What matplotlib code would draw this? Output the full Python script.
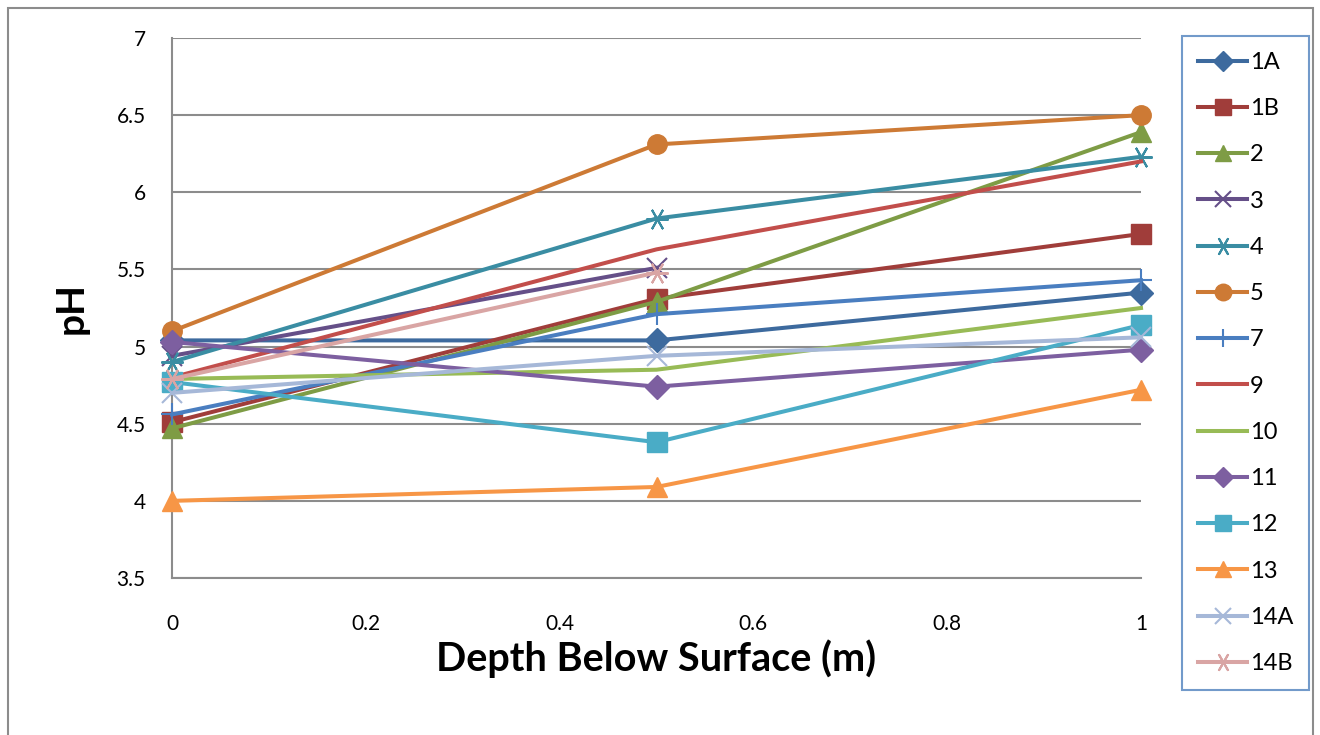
import numpy as np
import matplotlib
matplotlib.use("Agg")
import matplotlib.pyplot as plt
from matplotlib.patches import Rectangle

plt.rcParams['font.family'] = ['Lato', 'DejaVu Sans']

# depth (m)
depth = [0, 0.5, 1]

names = ["1A", "1B", "2", "3", "4", "5", "7", "9", "10", "11", "12", "13", "14A", "14B"]
ph_1A = [5.04, 5.04, 5.35]
ph_1B = [4.51, 5.31, 5.73]
ph_2 = [4.47, 5.29, 6.39]
ph_3 = [4.94, 5.51, None]
ph_4 = [4.90, 5.83, 6.23]
ph_5 = [5.10, 6.31, 6.50]
ph_7 = [4.56, 5.21, 5.43]
ph_9 = [4.80, 5.63, 6.20]
ph_10 = [4.79, 4.85, 5.25]
ph_11 = [5.03, 4.74, 4.98]
ph_12 = [4.77, 4.38, 5.14]
ph_13 = [4.00, 4.09, 4.72]
ph_14A = [4.70, 4.94, 5.06]
ph_14B = [4.79, 5.48, None]

series = [ph_1A, ph_1B, ph_2, ph_3, ph_4, ph_5, ph_7, ph_9, ph_10,
          ph_11, ph_12, ph_13, ph_14A, ph_14B]

colors = ["#3D6A9E", "#A03D3A", "#7E9C45", "#654F88", "#3A8DA3", "#CD7A35",
          "#4A7EC0", "#C24E4B", "#98BB56", "#7D5FA0", "#4AACC6", "#F79646",
          "#A6B8D8", "#D9A5A4"]
asterisk = (6, 2, 90)
markers = ["D", "s", "^", "x", asterisk, "o", "+", None, None, "D", "s", "^", "x", asterisk]
msizes = [12, 14, 14, 14, 16, 14, 16, 0, 0, 12, 14, 14, 14, 16]

fig = plt.figure(figsize=(13.2, 7.35), dpi=100)
fig.patches.append(Rectangle((8 / 1320, -0.05), 1305 / 1320, 1 - 8 / 735 + 0.05,
                             transform=fig.transFigure, fill=False,
                             edgecolor="#8c8c8c", linewidth=1.5))

ax = fig.add_axes([172 / 1320, 1 - 578 / 735, 969 / 1320, 540 / 735])

for name, vals, c, m, ms in zip(names, series, colors, markers, msizes):
    y = np.array([np.nan if v is None else v for v in vals], dtype=float)
    mew = 1.5 if m in ("x", "+", asterisk) else 1
    ax.plot(depth, y, color=c, linewidth=2.9, marker=m, markersize=ms,
            markeredgewidth=mew, markeredgecolor=c, markerfacecolor=c,
            label=name, clip_on=False, zorder=3)

ax.set_xlim(0, 1)
ax.set_ylim(3.5, 7)
ax.set_xticks([0, 0.2, 0.4, 0.6, 0.8, 1])
ax.set_xticklabels(["0", "0.2", "0.4", "0.6", "0.8", "1"])
ax.set_yticks(np.arange(3.5, 7.01, 0.5))
ax.set_yticklabels(["3.5", "4", "4.5", "5", "5.5", "6", "6.5", "7"])
ax.tick_params(length=0, labelsize=15)
ax.tick_params(axis="x", pad=26)
ax.tick_params(axis="y", pad=19)
ax.grid(axis="y", color="#8c8c8c", linewidth=1.5)
ax.set_axisbelow(True)
for s in ["top", "right"]:
    ax.spines[s].set_visible(False)
for s in ["left", "bottom"]:
    ax.spines[s].set_color("#8c8c8c")
    ax.spines[s].set_linewidth(1.5)

ax.set_xlabel("Depth Below Surface (m)", fontsize=28.5, fontweight="bold", labelpad=4)
ax.set_ylabel("pH", fontsize=28, fontweight="bold", labelpad=20)

leg = fig.legend(loc="upper left", bbox_to_anchor=(1182 / 1320, 1 - 36 / 735),
                 fontsize=17, frameon=True, fancybox=False, labelspacing=1.07,
                 handlelength=2.1, handletextpad=0.1, borderpad=0.67,
                 borderaxespad=0, markerscale=0.85)
leg.get_frame().set_edgecolor("#4F81BD")
leg.get_frame().set_linewidth(1.5)

fig.savefig("out.png", dpi=100)
